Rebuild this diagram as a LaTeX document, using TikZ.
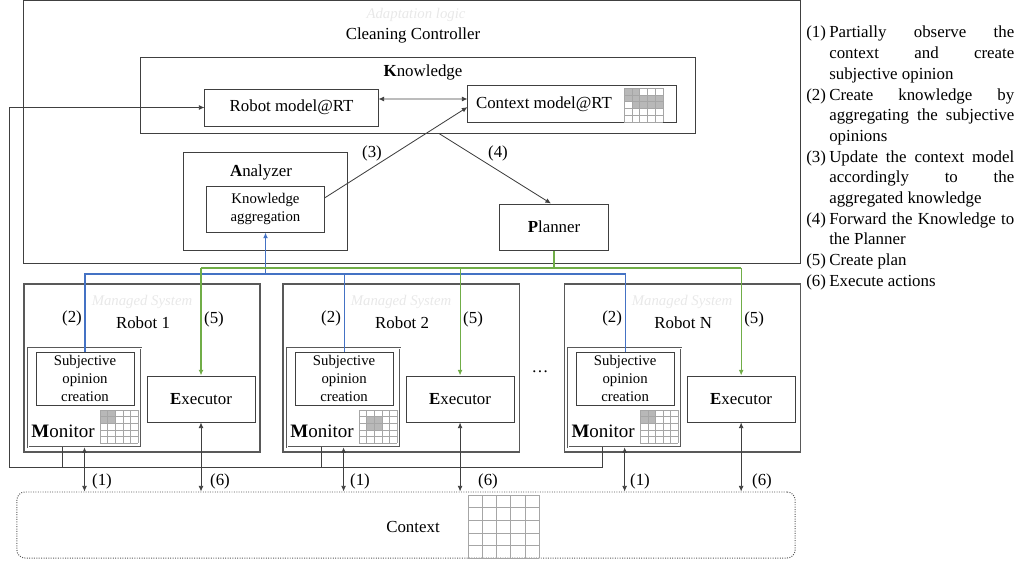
\documentclass[tikz,border=0pt]{standalone}
\usepackage{fontspec}
\setmainfont{Liberation Serif}
\usetikzlibrary{arrows.meta}
\definecolor{boxgray}{HTML}{404040}
\definecolor{sysgray}{HTML}{595959}
\definecolor{flowblue}{HTML}{4472C4}
\definecolor{flowgreen}{HTML}{70AD47}
\definecolor{cellgray}{HTML}{B8B8B8}
\definecolor{gridgray}{HTML}{A6A6A6}
\definecolor{faint}{HTML}{E8E8E8}
% 5x5 occupancy grid: x, y, width, height
\newcommand{\cellgrid}[4]{%
  \foreach \k in {0,...,5}{%
    \draw[gridln] ({#1+\k*#3/5},#2) -- ({#1+\k*#3/5},{#2+#4});
    \draw[gridln] (#1,{#2+\k*#4/5}) -- ({#1+#3},{#2+\k*#4/5});
  }}
% one shaded cell: x, y, width, height, column, row
\newcommand{\shadecell}[6]{%
  \fill[cellgray] ({#1+(#5-1)*#3/5},{#2+(#6-1)*#4/5}) rectangle ++({#3/5},{#4/5});}
\newcommand{\legitem}[2]{\hangindent=0.575cm\hangafter=1\noindent\makebox[0.575cm][l]{#1}#2\par}
\begin{document}
\begin{tikzpicture}[x=0.025cm, y=-0.025cm,
    font=\fontsize{12}{14}\selectfont,
    box/.style={draw=boxgray, line width=0.7pt, inner sep=0pt},
    sysbox/.style={draw=sysgray, line width=0.8pt, inner sep=0pt},
    monbox/.style={draw=sysgray, line width=0.45pt, double=white, double distance=0.7pt, inner sep=0pt},
    ctxbox/.style={draw=sysgray, line width=0.7pt, densely dotted, rounded corners=0.2cm, inner sep=0pt},
    lbl/.style={inner sep=1pt},
    ghost/.style={inner sep=1pt, text=faint, font=\fontsize{10.5}{12}\selectfont\itshape},
    smalltxt/.style={font=\fontsize{10.5}{12.6}\selectfont, align=center},
    montxt/.style={font=\fontsize{13.5}{15}\selectfont},
    legend/.style={anchor=north west, inner sep=0pt, text width=5.2cm, align=justify,
      font=\fontsize{12}{14.7}\selectfont},
    link/.style={draw=boxgray, line width=0.6pt},
    arr/.style={link, -{Latex[length=4pt,width=3.5pt]}},
    darr/.style={link, {Latex[length=4pt,width=3.5pt]}-{Latex[length=4pt,width=3.5pt]}},
    blueln/.style={draw=flowblue, line width=0.8pt},
    greenln/.style={draw=flowgreen, line width=0.8pt},
    gridln/.style={draw=gridgray, line width=0.3pt}]
  \useasboundingbox (0,0) rectangle (1020,560);
  % adaptation logic
  \node[box, minimum width=19.4cm, minimum height=6.55cm] (ctrl) at (412,132) {};
  \node[ghost] (adapt) at (416,15) {Adaptation logic};
  \node[lbl] (ctrlt) at (413,35) {Cleaning Controller};
  \node[box, minimum width=13.85cm, minimum height=1.9cm] (know) at (418,95) {};
  \node[lbl] (knowt) at (423,72) {\textbf{K}nowledge};
  \node[box, minimum width=4.325cm, minimum height=0.925cm] (rmod) at (291.5,107.5) {Robot model@RT};
  \node[box, minimum width=5.2cm, minimum height=0.925cm] (cmod) at (572,103.5) {};
  \node[lbl] (cmodt) at (544,104) {Context model@RT};
  \shadecell{624}{88}{39}{34}{1}{1}
  \shadecell{624}{88}{39}{34}{2}{1}
  \foreach \c in {1,...,5}{\shadecell{624}{88}{39}{34}{\c}{2}}
  \foreach \c in {2,...,5}{\shadecell{624}{88}{39}{34}{\c}{3}}
  \cellgrid{624}{88}{39}{34}
  \node[box, minimum width=4.075cm, minimum height=2.425cm] (ana) at (265.5,201.5) {};
  \node[lbl] (anat) at (261,172) {\textbf{A}nalyzer};
  \node[box, smalltxt, minimum width=2.925cm, minimum height=1.15cm] (kagg) at (265.5,209) {Knowledge\\aggregation};
  \node[box, minimum width=2.7cm, minimum height=1.15cm] (plan) at (554,227) {\textbf{P}lanner};
  \draw[darr] ([yshift=0.2125cm]rmod.east) -- ([yshift=0.1125cm]cmod.west);
  \draw[arr] ([yshift=0.275cm]kagg.east) -- ([yshift=-0.09cm]cmod.west);
  \draw[arr] ([xshift=0.525cm]know.south) -- ([xshift=-0.075cm]plan.north);
  \node[lbl] (three) at (372,153) {(3)};
  \node[lbl] (four) at (498,153) {(4)};
  % managed systems
  \begin{scope}[xshift=0.6cm]
    \node[sysbox, minimum width=5.9cm, minimum height=4.2cm] (r1) at (118,368) {};
    \node[ghost] (ms1) at (118,302) {Managed System};
    \node[lbl] (rt1) at (119,323) {Robot 1};
    \node[lbl] (two1) at (48,318) {(2)};
    \node[lbl] (five1) at (190,319) {(5)};
    \node[monbox, minimum width=2.825cm, minimum height=2.475cm] (m1) at (60.5,397.5) {};
    \node[box, smalltxt, minimum width=2.45cm, minimum height=1.325cm] (s1) at (61,378.5) {Subjective\\opinion\\creation};
    \node[lbl, montxt] (mt1) at (39,431) {\textbf{M}onitor};
    \shadecell{76}{410}{38}{33}{1}{1}
    \shadecell{76}{410}{38}{33}{2}{1}
    \shadecell{76}{410}{38}{33}{1}{2}
    \shadecell{76}{410}{38}{33}{2}{2}
    \cellgrid{76}{410}{38}{33}
    \node[box, minimum width=2.7cm, minimum height=1.15cm] (e1) at (177,399) {\textbf{E}xecutor};
  \end{scope}
  \begin{scope}[xshift=7.075cm]
    \node[sysbox, minimum width=5.9cm, minimum height=4.2cm] (r2) at (118,368) {};
    \node[ghost] (ms2) at (118,302) {Managed System};
    \node[lbl] (rt2) at (119,323) {Robot 2};
    \node[lbl] (two2) at (48,318) {(2)};
    \node[lbl] (five2) at (190,319) {(5)};
    \node[monbox, minimum width=2.825cm, minimum height=2.475cm] (m2) at (60.5,397.5) {};
    \node[box, smalltxt, minimum width=2.45cm, minimum height=1.325cm] (s2) at (61,378.5) {Subjective\\opinion\\creation};
    \node[lbl, montxt] (mt2) at (39,431) {\textbf{M}onitor};
    \shadecell{76}{410}{38}{33}{2}{2}
    \shadecell{76}{410}{38}{33}{3}{2}
    \shadecell{76}{410}{38}{33}{2}{3}
    \shadecell{76}{410}{38}{33}{3}{3}
    \cellgrid{76}{410}{38}{33}
    \node[box, minimum width=2.7cm, minimum height=1.15cm] (e2) at (177,399) {\textbf{E}xecutor};
  \end{scope}
  \node[lbl] (dots) at (540,372) {\dots};
  \begin{scope}[xshift=14.1cm]
    \node[sysbox, minimum width=5.9cm, minimum height=4.2cm] (rN) at (118,368) {};
    \node[ghost] (msN) at (118,302) {Managed System};
    \node[lbl] (rtN) at (119,323) {Robot N};
    \node[lbl] (twoN) at (48,318) {(2)};
    \node[lbl] (fiveN) at (190,319) {(5)};
    \node[monbox, minimum width=2.825cm, minimum height=2.475cm] (mN) at (60.5,397.5) {};
    \node[box, smalltxt, minimum width=2.45cm, minimum height=1.325cm] (sN) at (61,378.5) {Subjective\\opinion\\creation};
    \node[lbl, montxt] (mtN) at (39,431) {\textbf{M}onitor};
    \shadecell{76}{410}{38}{33}{1}{1}
    \shadecell{76}{410}{38}{33}{2}{1}
    \shadecell{76}{410}{38}{33}{1}{2}
    \shadecell{76}{410}{38}{33}{2}{2}
    \cellgrid{76}{410}{38}{33}
    \node[box, minimum width=2.7cm, minimum height=1.15cm] (eN) at (177,399) {\textbf{E}xecutor};
  \end{scope}
  % context
  \node[ctxbox, minimum width=19.45cm, minimum height=1.65cm] (ctx) at (406,525) {};
  \node[lbl] (ctxt) at (413,527) {Context};
  \cellgrid{468}{495}{71}{63}
  % flows
  \coordinate (bl) at (0,274);
  \coordinate (gl) at (0,268);
  \coordinate (ret) at (9,467);
  \draw[blueln] (s1.north) |- (sN.north |- bl) -- (sN.north);
  \draw[blueln] (s2.north) -- (s2.north |- bl);
  \draw[blueln, -{Latex[length=4pt,width=3.5pt]}] (kagg.south |- bl) -- (kagg.south);
  \draw[greenln] (plan.south) -- (plan.south |- gl);
  \draw[greenln] (e1.north |- gl) -- (eN.north |- gl);
  \draw[greenln, -{Latex[length=4pt,width=3.5pt]}] (e1.north |- gl) -- (e1.north);
  \draw[greenln, -{Latex[length=4pt,width=3.5pt]}] (e2.north |- gl) -- (e2.north);
  \draw[greenln, -{Latex[length=4pt,width=3.5pt]}] (eN.north |- gl) -- (eN.north);
  \draw[link] ([xshift=-0.5625cm]m1.south) |- (ret);
  \draw[link] ([xshift=-0.5625cm]m2.south) |- (ret);
  \draw[link] ([xshift=-0.5625cm]mN.south) |- (ret);
  \draw[arr] (ret) |- (rmod.west);
  \draw[darr] (m1.south) -- (m1.south |- ctx.north);
  \draw[darr] (m2.south) -- (m2.south |- ctx.north);
  \draw[darr] (mN.south) -- (mN.south |- ctx.north);
  \draw[darr] (e1.south) -- (e1.south |- ctx.north);
  \draw[darr] (e2.south) -- (e2.south |- ctx.north);
  \draw[darr] (eN.south) -- (eN.south |- ctx.north);
  \node[lbl] (one1) at (102,481) {(1)};
  \node[lbl] (six1) at (220,481) {(6)};
  \node[lbl] (one2) at (360,481) {(1)};
  \node[lbl] (six2) at (488,481) {(6)};
  \node[lbl] (oneN) at (640,481) {(1)};
  \node[lbl] (sixN) at (762,481) {(6)};
  % steps
  \node[legend] (leg) at (806,26) {%
    \legitem{(1)}{Partially observe the\linebreak context and create\linebreak subjective opinion}
    \legitem{(2)}{Create knowledge by\linebreak aggregating the subjective\linebreak opinions}
    \legitem{(3)}{Update the context model\linebreak accordingly to the\linebreak aggregated knowledge}
    \legitem{(4)}{Forward the Knowledge to\linebreak the Planner}
    \legitem{(5)}{Create plan}
    \legitem{(6)}{Execute actions}};
\end{tikzpicture}
\end{document}
